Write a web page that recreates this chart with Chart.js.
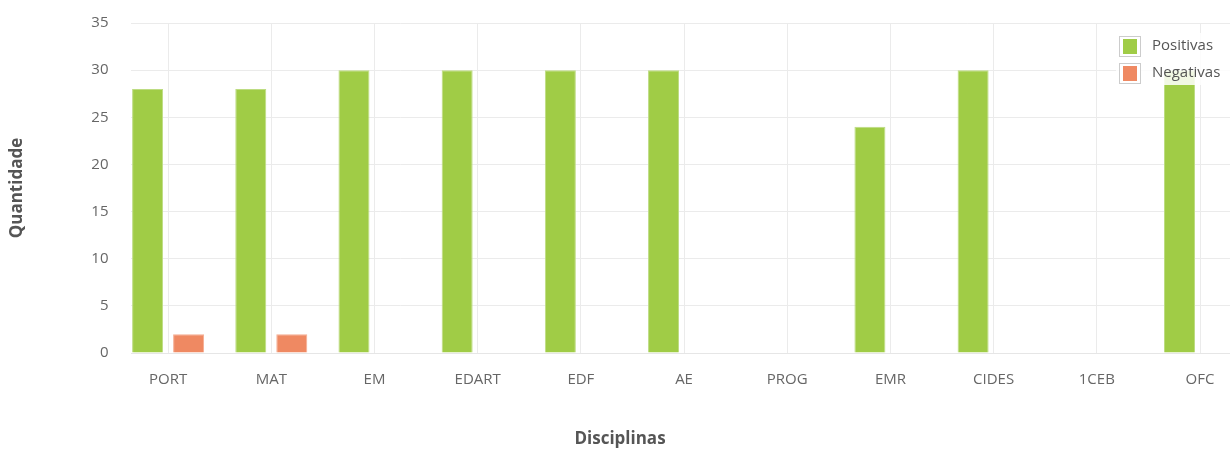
<!DOCTYPE html>
<html>
<head>
<meta charset="utf-8">
<script src="https://cdn.jsdelivr.net/npm/chart.js@4/dist/chart.umd.min.js"></script>
<style>
  html, body { margin: 0; padding: 0; background: #fff; overflow: hidden; width: 1230px; height: 450px; }
  #wrap { position: absolute; left: 0; top: 0; width: 1262px; height: 450px; }
</style>
</head>
<body>
<div id="wrap"><canvas id="c" width="1262" height="450"></canvas></div>
<script>
const categories = ["PORT", "MAT", "EM", "EDART", "EDF", "AE", "PROG", "EMR", "CIDES", "1CEB", "OFC"];
const positivas = [28, 28, 30, 30, 30, 30, 0, 24, 30, 0, 30];
const negativas = [2, 2, 0, 0, 0, 0, 0, 0, 0, 0, 0];
const seriesNames = ["Positivas", "Negativas"];
const yTicks = [0, 5, 10, 15, 20, 25, 30, 35];
const yTitle = "Quantidade";
const xTitle = "Disciplinas";

const FONT = "'Open Sans', 'Noto Sans', sans-serif";
const GREEN = "#a0cc46", GREEN_B = "#bddc82";
const RED = "#ef8962", RED_B = "#f5ac90";

const gridCleanup = {
  id: 'gridCleanup',
  beforeDatasetsDraw(chart) {
    const {ctx, chartArea} = chart;
    ctx.save();
    ctx.fillStyle = '#fff';
    ctx.fillRect(chartArea.left - 1, chartArea.top - 2, 131 - chartArea.left + 1, chartArea.bottom - chartArea.top + 4);
    ctx.restore();
  }
};

const xAxisTitle = {
  id: 'xAxisTitle',
  afterDraw(chart) {
    const {ctx} = chart;
    ctx.save();
    ctx.font = "bold 17px " + FONT;
    ctx.fillStyle = '#555';
    ctx.textAlign = 'center';
    ctx.textBaseline = 'middle';
    ctx.fillText(xTitle, 620, 439);
    ctx.restore();
  }
};

const insideLegend = {
  id: 'insideLegend',
  afterDatasetsDraw(chart) {
    const {ctx} = chart;
    ctx.save();
    ctx.fillStyle = 'rgba(255,255,255,0.85)';
    ctx.fillRect(1116, 33, 130, 52);
    ctx.font = "15px " + FONT;
    ctx.textBaseline = 'middle';
    ctx.textAlign = 'left';
    chart.data.datasets.forEach((ds, i) => {
      const y0 = 36 + i * 27;
      ctx.fillStyle = '#fff';
      ctx.fillRect(1119, y0, 22, 21);
      ctx.strokeStyle = '#cccccc';
      ctx.lineWidth = 1;
      ctx.strokeRect(1119.5, y0 + 0.5, 21, 20);
      ctx.fillStyle = ds.backgroundColor;
      ctx.fillRect(1123, y0 + 3, 14, 15);
      ctx.fillStyle = '#555';
      ctx.fillText(ds.label, 1152, y0 + 10);
    });
    ctx.restore();
  }
};

new Chart(document.getElementById('c'), {
  type: 'bar',
  data: {
    labels: categories,
    datasets: [
      { label: seriesNames[0], data: positivas, backgroundColor: GREEN, borderColor: GREEN_B,
        borderWidth: c => (c.raw ? 1 : 0), borderSkipped: 'start',
        categoryPercentage: 0.795, barPercentage: 0.756 },
      { label: seriesNames[1], data: negativas, backgroundColor: RED, borderColor: RED_B,
        borderWidth: c => (c.raw ? 1 : 0), borderSkipped: 'start',
        categoryPercentage: 0.795, barPercentage: 0.756 }
    ]
  },
  options: {
    responsive: false,
    devicePixelRatio: 1,
    animation: false,
    layout: { padding: { top: 23, right: 10.4, left: 0, bottom: 0 } },
    plugins: { legend: { display: false }, tooltip: { enabled: false } },
    scales: {
      x: {
        offset: true,
        grid: { offset: false, color: '#ebebeb', drawTicks: false },
        border: { color: '#e6e6e6' },
        ticks: { color: '#666', font: { family: FONT, size: 15 }, padding: 18, maxRotation: 0, autoSkip: false },
        title: { display: false },
        afterFit: s => { s.height = 97; }
      },
      y: {
        min: yTicks[0],
        max: yTicks[yTicks.length - 1],
        afterBuildTicks: s => { s.ticks = yTicks.map(v => ({ value: v })); },
        grid: { color: '#ebebeb', drawTicks: false },
        border: { display: false },
        ticks: { color: '#666', font: { family: FONT, size: 15 }, padding: 8 },
        title: { display: true, text: yTitle, color: '#555', font: { family: FONT, size: 17, weight: 'bold' }, padding: { top: 7, bottom: 0 } },
        afterFit: s => { s.width = 116.5; }
      }
    }
  },
  plugins: [gridCleanup, insideLegend, xAxisTitle]
});
</script>
</body>
</html>
